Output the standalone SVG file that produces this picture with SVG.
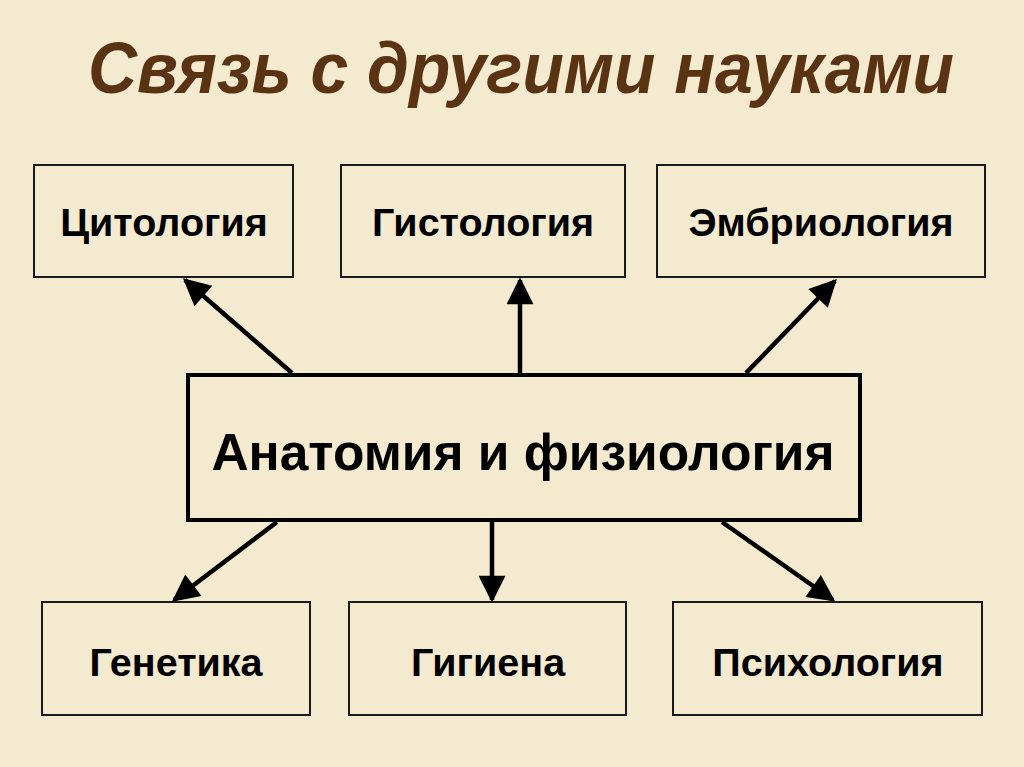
<svg xmlns="http://www.w3.org/2000/svg" width="1024" height="767" viewBox="0 0 1024 767">
<style>
.box{fill:none;stroke:#1a1a1a;stroke-width:2}
.lbl{font-family:"Liberation Sans",Arial,sans-serif;font-weight:bold;font-size:39.5px;fill:#000;text-anchor:middle}
.big{font-size:51.5px}
.con{stroke:#000;stroke-width:4.5;fill:none;marker-end:url(#ah)}
</style>
<defs>
<marker id="ah" viewBox="0 0 10 10" refX="9" refY="5" markerWidth="6.5" markerHeight="6" orient="auto" markerUnits="strokeWidth">
<path d="M0,0 L10,5 L0,10 z" fill="#000"/>
</marker>
</defs>
<rect width="1024" height="767" fill="#f4ead0"/>
<text x="521" y="93" font-family="'Liberation Sans Narrow','Liberation Sans',Arial,sans-serif" font-weight="bold" font-style="italic" font-size="72" fill="#5a3312" text-anchor="middle" textLength="866" lengthAdjust="spacingAndGlyphs">Связь с другими науками</text>
<g id="connectors">
<line class="con" x1="292" y1="373" x2="185" y2="280"/>
<line class="con" x1="520" y1="373" x2="520" y2="280"/>
<line class="con" x1="746" y1="373" x2="835" y2="281"/>
<line class="con" x1="277" y1="522" x2="174" y2="600"/>
<line class="con" x1="492" y1="522" x2="492" y2="600"/>
<line class="con" x1="722" y1="522" x2="833" y2="600"/>
</g>
<g id="center">
<rect x="188" y="375" width="672" height="145" fill="none" stroke="#000" stroke-width="4"/>
<text class="lbl big" x="523" y="470">Анатомия и физиология</text>
</g>
<g id="cytology">
<rect class="box" x="34" y="165" width="259" height="112"/>
<text class="lbl" x="164" y="236">Цитология</text>
</g>
<g id="histology">
<rect class="box" x="341" y="165" width="284" height="112"/>
<text class="lbl" x="483" y="236">Гистология</text>
</g>
<g id="embryology">
<rect class="box" x="657" y="165" width="328" height="112"/>
<text class="lbl" x="821" y="236">Эмбриология</text>
</g>
<g id="genetics">
<rect class="box" x="42" y="602" width="268" height="113"/>
<text class="lbl" x="176" y="676">Генетика</text>
</g>
<g id="hygiene">
<rect class="box" x="349" y="602" width="277" height="113"/>
<text class="lbl" x="488" y="676">Гигиена</text>
</g>
<g id="psychology">
<rect class="box" x="673" y="602" width="309" height="113"/>
<text class="lbl" x="828" y="676">Психология</text>
</g>
</svg>
